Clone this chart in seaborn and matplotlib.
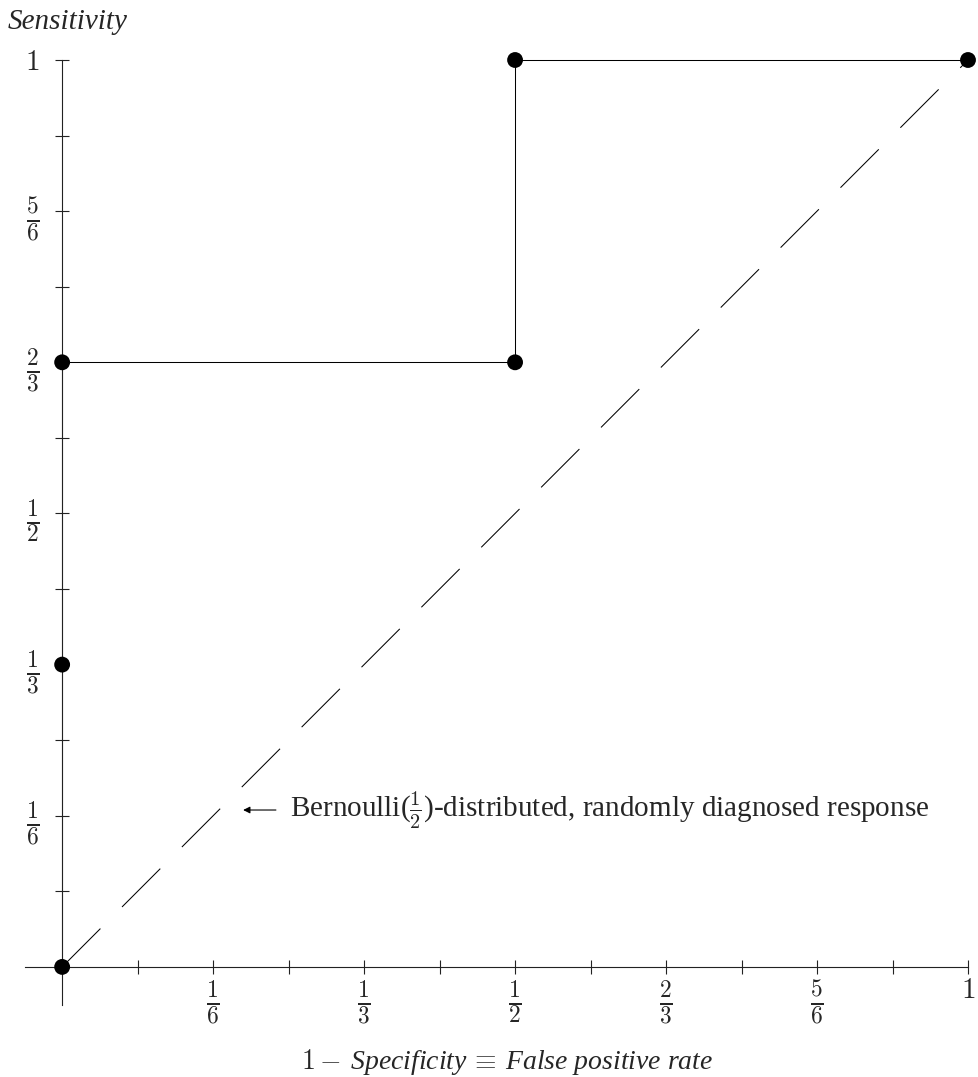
import numpy as np
import pandas as pd
import matplotlib
matplotlib.use("Agg")
import matplotlib.pyplot as plt
import seaborn as sns

# ---- data ----
fpr = [0.0, 0.0, 0.0, 0.5, 0.5, 1.0]
tpr = [0.0, 1/3, 2/3, 2/3, 1.0, 1.0]
chance_x = [0.0, 1.0]
chance_y = [0.0, 1.0]
major_ticks = [0, 1/6, 1/3, 1/2, 2/3, 5/6, 1]
minor_ticks = [1/12, 3/12, 5/12, 7/12, 9/12, 11/12]
tick_labels = ["", r"$\frac{1}{6}$", r"$\frac{1}{3}$", r"$\frac{1}{2}$",
               r"$\frac{2}{3}$", r"$\frac{5}{6}$", r"$1$"]
ylabel_text = "Sensitivity"
xlabel_text = r"$1 -\,$Specificity$\,\equiv\,$False positive rate"
annot_text = r"Bernoulli($\frac{1}{2}$)-distributed, randomly diagnosed response"

sns.set_theme(style="white")
plt.rcParams["font.family"] = ["Liberation Serif", "DejaVu Serif"]
plt.rcParams["mathtext.fontset"] = "cm"
plt.rcParams["lines.scale_dashes"] = False

W, H = 979, 1077
fig = plt.figure(figsize=(W/100, H/100), dpi=100)
ax = fig.add_axes([25/W, (H-1005)/H, (968-25)/W, (1005-60)/H])
ax.set_xlim(-0.041, 1.0)
ax.set_ylim(-0.042, 1.0)

roc = pd.DataFrame({"fpr": fpr, "tpr": tpr})
chance = pd.DataFrame({"x": chance_x, "y": chance_y})

sns.lineplot(data=chance, x="x", y="y", ax=ax, color="black", lw=0.75,
             dashes=False, sort=False)
ax.lines[-1].set_dashes((39, 22))
sns.lineplot(data=roc, x="fpr", y="tpr", ax=ax, color="black", lw=0.75,
             sort=False, estimator=None)
sns.scatterplot(data=roc, x="fpr", y="tpr", ax=ax, color="black", s=130,
                edgecolor="none", zorder=5, clip_on=False)
for c in ax.collections:
    c.set_clip_on(False)
for l in ax.lines:
    l.set_clip_on(False)

for s in ["top", "right"]:
    ax.spines[s].set_visible(False)
for s in ["left", "bottom"]:
    ax.spines[s].set_position(("data", 0))
    ax.spines[s].set_color("#222222")
    ax.spines[s].set_linewidth(0.8)

ax.set_xticks(major_ticks)
ax.set_yticks(major_ticks)
ax.set_xticks(minor_ticks, minor=True)
ax.set_yticks(minor_ticks, minor=True)
ax.set_xticklabels(tick_labels)
ax.set_yticklabels(tick_labels)
ax.tick_params(which="both", direction="inout", length=10.5, width=0.8,
               color="#222222", labelsize=21, bottom=True, left=True)
ax.tick_params(axis="x", pad=3)
ax.tick_params(axis="y", pad=11)
for lab in ax.get_xticklabels() + ax.get_yticklabels():
    if "frac" in lab.get_text():
        lab.set_fontsize(24)
ax.set_xlabel("")
ax.set_ylabel("")

ax.text(-0.0596, 1.042, ylabel_text, fontsize=21, style="italic",
        ha="left", va="center")
ax.text(0.491, -0.105, xlabel_text, fontsize=20, style="italic",
        ha="center", va="center")
ax.annotate("", xy=(0.1998, 0.173), xytext=(0.236, 0.173),
            arrowprops=dict(arrowstyle="-|>", lw=0.8, color="black",
                            mutation_scale=10, shrinkA=0, shrinkB=0))
ax.text(0.2517, 0.173, annot_text, fontsize=21, ha="left", va="center")

fig.savefig("out.png", dpi=100)
